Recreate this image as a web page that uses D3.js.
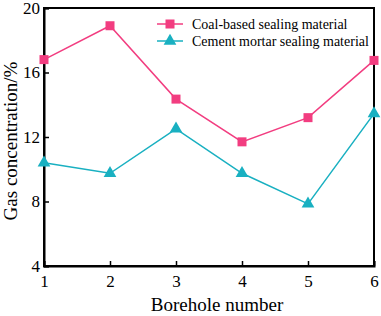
<html>
<head>
<script src="https://d3js.org/d3.v7.min.js"></script>
<style>
  body { margin: 0; background: #fff; }
  text { font-family: "Liberation Serif", "Times New Roman", serif; fill: #000; }
</style>
</head>
<body>
<svg id="chart" width="381" height="316"></svg>
<script>
// data
const boreholes = [1, 2, 3, 4, 5, 6];
const coalBased = [16.8, 18.9, 14.35, 11.7, 13.2, 16.75];
const cementMortar = [10.4, 9.75, 12.5, 9.75, 7.85, 13.45];
const yTicks = [4, 8, 12, 16, 20];
const seriesNames = ["Coal-based sealing material", "Cement mortar sealing material"];

const svg = d3.select("#chart");
const margin = { top: 8, right: 7, bottom: 50, left: 44 };
const w = 381 - margin.left - margin.right;
const h = 316 - margin.top - margin.bottom;
const g = svg.append("g").attr("transform", "translate(" + margin.left + "," + margin.top + ")");

const x = d3.scaleLinear().domain([1, 6]).range([0, w]);
const y = d3.scaleLinear().domain([4, 20]).range([h, 0]);

const pink = "#f23d80";
const cyan = "#19b0c1";

// frame
g.append("rect").attr("width", w).attr("height", h)
  .attr("fill", "none").attr("stroke", "#000").attr("stroke-width", 2);

// axes with inward ticks
const xAxis = g.append("g").attr("transform", "translate(0," + h + ")")
  .call(d3.axisBottom(x).tickValues(boreholes).tickSize(-5).tickPadding(8).tickFormat(d3.format("d")));
const yAxis = g.append("g")
  .call(d3.axisLeft(y).tickValues(yTicks).tickSize(-5).tickPadding(4));
[xAxis, yAxis].forEach(a => {
  a.select(".domain").attr("stroke-width", 2);
  a.selectAll(".tick line").attr("stroke-width", 1.5);
  a.selectAll(".tick text").style("font-size", "17px").style("font-family", "Liberation Serif");
});
xAxis.selectAll(".tick text").attr("dy", "0.75em");

// axis titles
svg.append("text").attr("x", 217).attr("y", 311)
  .attr("text-anchor", "middle").style("font-size", "19px").text("Borehole number");
svg.append("text").attr("transform", "translate(17,141) rotate(-90)")
  .attr("text-anchor", "middle").style("font-size", "19px").text("Gas concentration/%");

const line = d3.line().x((d, i) => x(boreholes[i])).y(d => y(d));

// coal-based series
g.append("path").datum(coalBased).attr("d", line)
  .attr("fill", "none").attr("stroke", pink).attr("stroke-width", 1.5);
g.selectAll("rect.coal").data(coalBased).join("rect").attr("class", "coal")
  .attr("x", (d, i) => x(boreholes[i]) - 4.5).attr("y", d => y(d) - 4.5)
  .attr("width", 9).attr("height", 9).attr("fill", pink);

// cement series
const tri = d3.symbol().type(d3.symbolTriangle).size(70);
g.append("path").datum(cementMortar).attr("d", line)
  .attr("fill", "none").attr("stroke", cyan).attr("stroke-width", 1.5);
g.selectAll("path.cement").data(cementMortar).join("path").attr("class", "cement")
  .attr("transform", (d, i) => "translate(" + x(boreholes[i]) + "," + y(d) + ")")
  .attr("d", tri).attr("fill", cyan);

// legend
const leg = g.append("g").attr("transform", "translate(113,16)");
seriesNames.forEach((name, i) => {
  const row = leg.append("g").attr("transform", "translate(0," + i * 17 + ")");
  const c = i === 0 ? pink : cyan;
  row.append("line").attr("x1", 0).attr("x2", 26).attr("stroke", c).attr("stroke-width", 1.5);
  if (i === 0) {
    row.append("rect").attr("x", 8.5).attr("y", -4.5).attr("width", 9).attr("height", 9).attr("fill", c);
  } else {
    row.append("path").attr("transform", "translate(13,0)").attr("d", tri).attr("fill", c);
  }
  row.append("text").attr("x", 35).attr("y", 5).style("font-size", "14px").text(name);
});
</script>
</body>
</html>
